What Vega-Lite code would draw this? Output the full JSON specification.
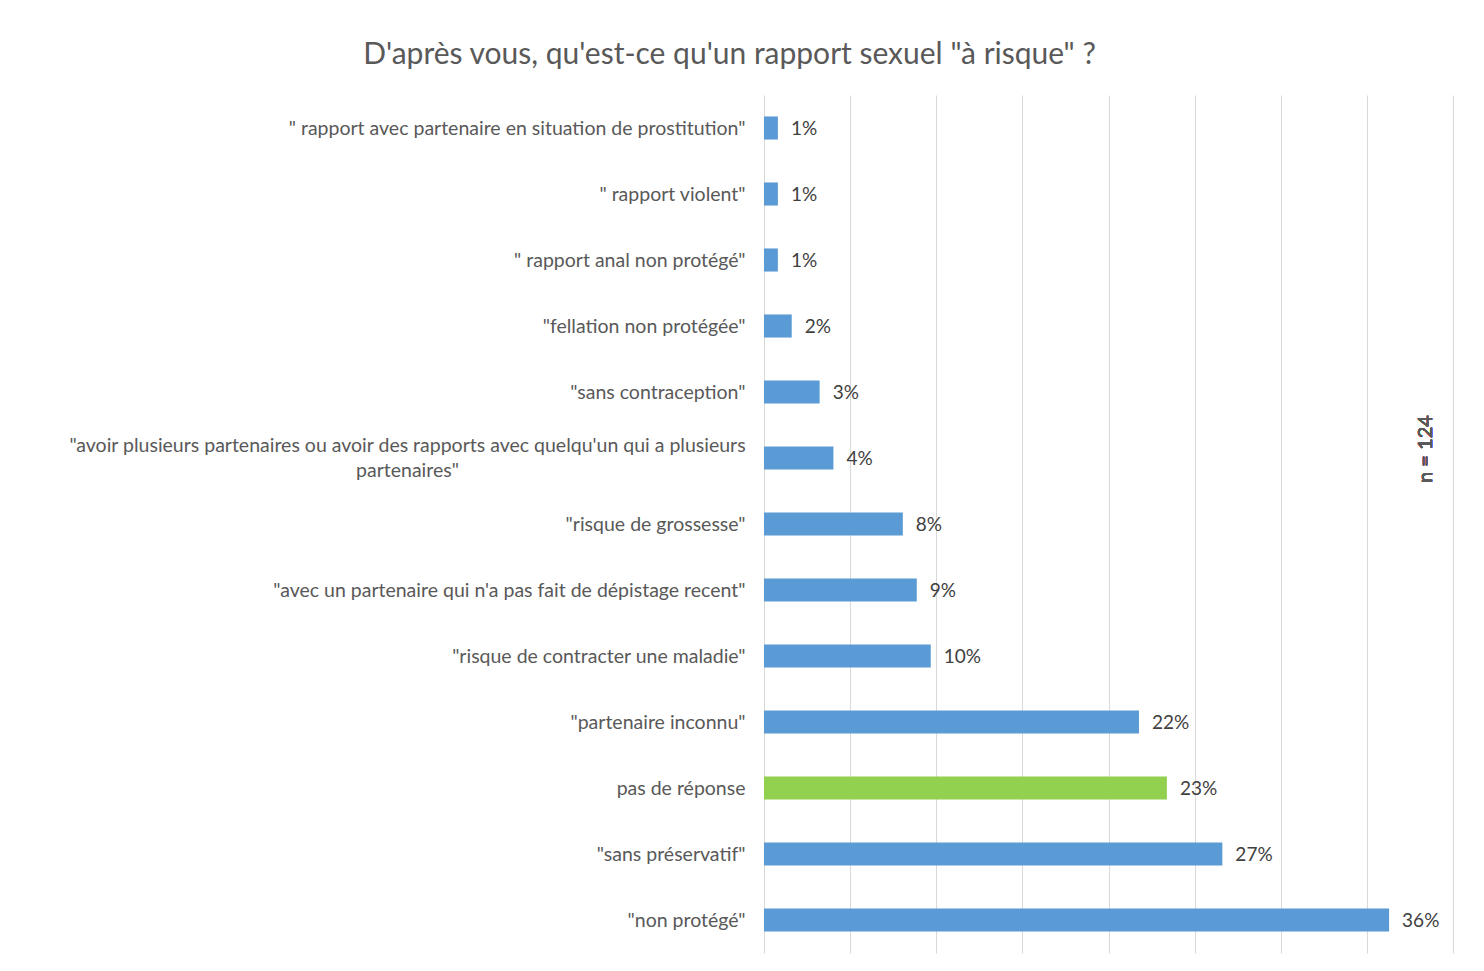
{
  "$schema": "https://vega.github.io/schema/vega-lite/v6.json",
  "width": 689,
  "height": 858,
  "autosize": {"type": "none"},
  "padding": {"left": 764, "top": 95, "right": 31, "bottom": 18},
  "background": "white",
  "config": {"view": {"stroke": null}},
  "title": {
    "text": "D'après vous, qu'est-ce qu'un rapport sexuel \"à risque\" ?",
    "font": "Lato",
    "fontSize": 30,
    "fontWeight": "normal",
    "color": "#595959",
    "anchor": "middle",
    "dx": -379,
    "offset": 25
  },
  "data": {
    "values": [
      {"categorie": "\" rapport avec partenaire en situation de prostitution\"", "part": 0.00806, "type": "réponse"},
      {"categorie": "\" rapport violent\"", "part": 0.00806, "type": "réponse"},
      {"categorie": "\" rapport anal non protégé\"", "part": 0.00806, "type": "réponse"},
      {"categorie": "\"fellation non protégée\"", "part": 0.0161, "type": "réponse"},
      {"categorie": "\"sans contraception\"", "part": 0.0323, "type": "réponse"},
      {"categorie": "\"avoir plusieurs partenaires ou avoir des rapports avec quelqu'un qui a plusieurs|partenaires\"", "part": 0.0403, "type": "réponse"},
      {"categorie": "\"risque de grossesse\"", "part": 0.0806, "type": "réponse"},
      {"categorie": "\"avec un partenaire qui n'a pas fait de dépistage recent\"", "part": 0.0887, "type": "réponse"},
      {"categorie": "\"risque de contracter une maladie\"", "part": 0.0968, "type": "réponse"},
      {"categorie": "\"partenaire inconnu\"", "part": 0.2177, "type": "réponse"},
      {"categorie": "pas de réponse", "part": 0.2339, "type": "pas de réponse"},
      {"categorie": "\"sans préservatif\"", "part": 0.2661, "type": "réponse"},
      {"categorie": "\"non protégé\"", "part": 0.3629, "type": "réponse"}
    ]
  },
  "encoding": {
    "y": {
      "field": "categorie",
      "type": "nominal",
      "sort": null,
      "scale": {"paddingInner": 0.65, "paddingOuter": 0.325},
      "axis": {
        "title": null,
        "domain": false,
        "ticks": false,
        "grid": false,
        "labelFont": "Lato",
        "labelFontSize": 19.5,
        "labelColor": "#595959",
        "labelLimit": 800,
        "labelLineHeight": 25,
        "labelExpr": "split(datum.label, '|')",
        "labelAlign": {"condition": {"test": "indexof(datum.value, '|') >= 0", "value": "center"}, "value": "right"},
        "labelPadding": {"condition": {"test": "indexof(datum.value, '|') >= 0", "value": 357}, "value": 19},
        "labelOffset": {"condition": {"test": "indexof(datum.value, '|') >= 0", "value": -12}, "value": 1}
      }
    }
  },
  "layer": [
    {
      "mark": {"type": "bar"},
      "encoding": {
        "x": {
          "field": "part",
          "type": "quantitative",
          "scale": {"domain": [0, 0.4], "nice": false},
          "axis": {
            "title": null,
            "labels": false,
            "ticks": false,
            "domain": false,
            "grid": true,
            "gridColor": "#D9D9D9",
            "gridWidth": 1,
            "values": [0, 0.05, 0.1, 0.15, 0.2, 0.25, 0.3, 0.35, 0.4]
          }
        },
        "color": {
          "field": "type",
          "type": "nominal",
          "scale": {"domain": ["réponse", "pas de réponse"], "range": ["#5B9BD5", "#92D050"]},
          "legend": null
        }
      }
    },
    {
      "mark": {"type": "text", "align": "left", "baseline": "middle", "dx": 13, "dy": 1, "font": "Lato", "fontSize": 19, "color": "#404040"},
      "encoding": {
        "x": {"field": "part", "type": "quantitative"},
        "text": {"field": "part", "type": "quantitative", "format": ".0%"}
      }
    },
    {
      "mark": {"type": "text", "align": "center", "baseline": "middle", "angle": 270, "dx": 9, "font": "Lato", "fontSize": 20, "color": "#595959"},
      "encoding": {
        "x": {"datum": 0.3843, "type": "quantitative"},
        "y": {"datum": "\"avoir plusieurs partenaires ou avoir des rapports avec quelqu'un qui a plusieurs|partenaires\""},
        "text": {"value": "n = 124"}
      }
    }
  ]
}
